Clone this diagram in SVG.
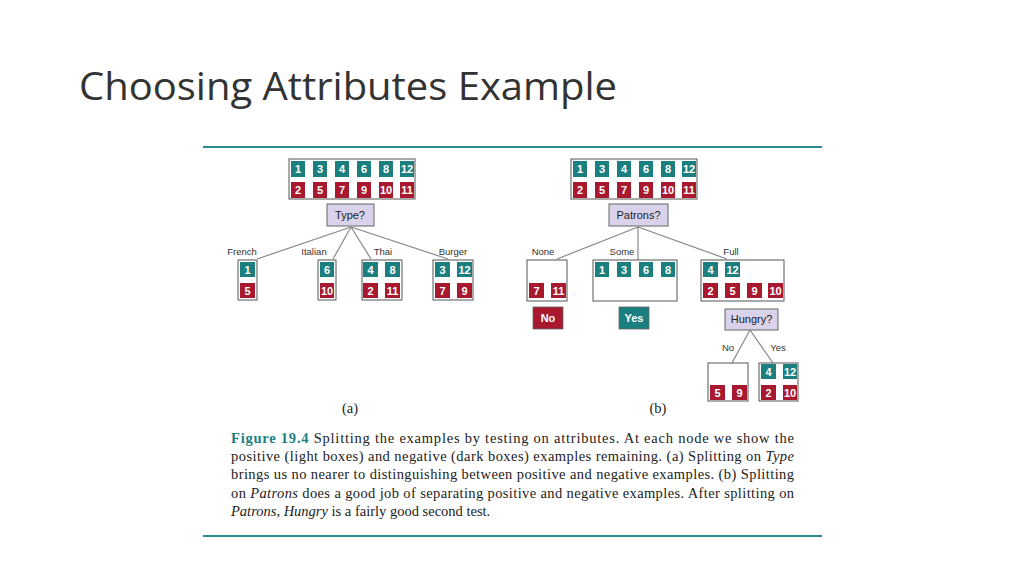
<svg xmlns="http://www.w3.org/2000/svg" width="1024" height="576" viewBox="0 0 1024 576">
<style>
.t{fill:#1b7f80}.r{fill:#a8182f}
.n{font-family:"Liberation Sans",Arial,sans-serif;font-size:11px;fill:#fff;text-anchor:middle;font-weight:bold}
.bx{fill:#fff;stroke:#555;stroke-width:1}
.q{fill:#d9d2ea;stroke:#666;stroke-width:1}
.ql{font-family:"Liberation Sans",Arial,sans-serif;font-size:11px;fill:#222;text-anchor:middle}
.lb{font-family:"Liberation Sans",Arial,sans-serif;font-size:9.5px;fill:#333;text-anchor:middle}
.cap{font-family:"Liberation Serif","Times New Roman",serif;font-size:14.5px;fill:#222}
.ln{stroke:#888;stroke-width:1.2;fill:none}
</style>
<rect width="1024" height="576" fill="#fff"/>
<text x="79" y="100" font-family="'Open Sans','Liberation Sans',sans-serif" font-size="38" fill="#333" textLength="538" lengthAdjust="spacingAndGlyphs">Choosing Attributes Example</text>
<line x1="203" y1="147" x2="822" y2="147" stroke="#2a8a8c" stroke-width="2"/>
<line x1="203" y1="536" x2="822" y2="536" stroke="#2a8a8c" stroke-width="2"/>
<g id="connectors">
<path class="ln" d="M351 227L257 259M351 227L333 259M351 227L371 259M351 227L448 259"/>
<path class="ln" d="M638 227L557 259M638 227L638 260M638 227L727 259"/>
<path class="ln" d="M750 330L732 363M750 330L773 363"/>
</g>
<g id="a-root">
<rect class="bx" x="289" y="159" width="126" height="40"/>
<g class="n">
<rect class="t" x="291" y="161" width="14" height="16"/><rect class="t" x="313" y="161" width="14" height="16"/><rect class="t" x="335" y="161" width="14" height="16"/><rect class="t" x="357" y="161" width="14" height="16"/><rect class="t" x="379" y="161" width="14" height="16"/><rect class="t" x="400" y="161" width="14" height="16"/>
<rect class="r" x="291" y="182" width="14" height="16"/><rect class="r" x="313" y="182" width="14" height="16"/><rect class="r" x="335" y="182" width="14" height="16"/><rect class="r" x="357" y="182" width="14" height="16"/><rect class="r" x="379" y="182" width="14" height="16"/><rect class="r" x="400" y="182" width="14" height="16"/>
<text x="298" y="173">1</text><text x="320" y="173">3</text><text x="342" y="173">4</text><text x="364" y="173">6</text><text x="386" y="173">8</text><text x="407" y="173">12</text>
<text x="298" y="194">2</text><text x="320" y="194">5</text><text x="342" y="194">7</text><text x="364" y="194">9</text><text x="386" y="194">10</text><text x="407" y="194">11</text>
</g>
</g>
<g id="a-type"><rect class="q" x="327" y="204" width="47" height="22"/><text class="ql" x="350" y="219">Type?</text></g>
<g id="a-labels"><text class="lb" x="242" y="255">French</text><text class="lb" x="314" y="255">Italian</text><text class="lb" x="383" y="255">Thai</text><text class="lb" x="453" y="255">Burger</text></g>
<g id="a-french" class="n"><rect class="bx" x="238" y="260" width="19" height="40"/><rect class="t" x="240" y="262" width="15" height="15"/><rect class="r" x="240" y="283" width="15" height="15"/><text x="247.5" y="274">1</text><text x="247.5" y="295">5</text></g>
<g id="a-italian" class="n"><rect class="bx" x="318" y="260" width="18" height="40"/><rect class="t" x="320" y="262" width="14" height="15"/><rect class="r" x="320" y="283" width="14" height="15"/><text x="327" y="274">6</text><text x="327" y="295">10</text></g>
<g id="a-thai" class="n"><rect class="bx" x="362" y="260" width="40" height="40"/><rect class="t" x="363" y="262" width="15" height="15"/><rect class="t" x="385" y="262" width="15" height="15"/><rect class="r" x="363" y="283" width="15" height="15"/><rect class="r" x="385" y="283" width="15" height="15"/><text x="370.5" y="274">4</text><text x="392.5" y="274">8</text><text x="370.5" y="295">2</text><text x="392.5" y="295">11</text></g>
<g id="a-burger" class="n"><rect class="bx" x="433" y="260" width="40" height="40"/><rect class="t" x="435" y="262" width="15" height="15"/><rect class="t" x="457" y="262" width="15" height="15"/><rect class="r" x="435" y="283" width="15" height="15"/><rect class="r" x="457" y="283" width="15" height="15"/><text x="442.5" y="274">3</text><text x="464.5" y="274">12</text><text x="442.5" y="295">7</text><text x="464.5" y="295">9</text></g>

<g id="b-root">
<rect class="bx" x="571" y="159" width="126" height="40"/>
<g class="n">
<rect class="t" x="573" y="161" width="14" height="16"/><rect class="t" x="595" y="161" width="14" height="16"/><rect class="t" x="617" y="161" width="14" height="16"/><rect class="t" x="639" y="161" width="14" height="16"/><rect class="t" x="661" y="161" width="14" height="16"/><rect class="t" x="682" y="161" width="14" height="16"/>
<rect class="r" x="573" y="182" width="14" height="16"/><rect class="r" x="595" y="182" width="14" height="16"/><rect class="r" x="617" y="182" width="14" height="16"/><rect class="r" x="639" y="182" width="14" height="16"/><rect class="r" x="661" y="182" width="14" height="16"/><rect class="r" x="682" y="182" width="14" height="16"/>
<text x="580" y="173">1</text><text x="602" y="173">3</text><text x="624" y="173">4</text><text x="646" y="173">6</text><text x="668" y="173">8</text><text x="689" y="173">12</text>
<text x="580" y="194">2</text><text x="602" y="194">5</text><text x="624" y="194">7</text><text x="646" y="194">9</text><text x="668" y="194">10</text><text x="689" y="194">11</text>
</g>
</g>
<g id="b-patrons"><rect class="q" x="609" y="204" width="59" height="22"/><text class="ql" x="638.5" y="219">Patrons?</text></g>
<g id="b-labels"><text class="lb" x="543" y="255">None</text><text class="lb" x="622" y="255">Some</text><text class="lb" x="731" y="255">Full</text><text class="lb" x="728" y="351">No</text><text class="lb" x="778" y="351">Yes</text></g>
<g id="b-none" class="n"><rect class="bx" x="527" y="260" width="40" height="41"/><rect class="r" x="529" y="283" width="15" height="15"/><rect class="r" x="551" y="283" width="15" height="15"/><text x="536.5" y="295">7</text><text x="558.5" y="295">11</text></g>
<g id="b-some" class="n"><rect class="bx" x="593" y="260" width="84" height="41"/><rect class="t" x="595" y="262" width="14" height="15"/><rect class="t" x="617" y="262" width="14" height="15"/><rect class="t" x="639" y="262" width="14" height="15"/><rect class="t" x="661" y="262" width="14" height="15"/><text x="602" y="274">1</text><text x="624" y="274">3</text><text x="646" y="274">6</text><text x="668" y="274">8</text></g>
<g id="b-full" class="n"><rect class="bx" x="701" y="260" width="83" height="41"/><rect class="t" x="703" y="262" width="15" height="15"/><rect class="t" x="725" y="262" width="15" height="15"/><rect class="r" x="703" y="283" width="15" height="15"/><rect class="r" x="725" y="283" width="15" height="15"/><rect class="r" x="747" y="283" width="15" height="15"/><rect class="r" x="768" y="283" width="15" height="15"/><text x="710.5" y="274">4</text><text x="732.5" y="274">12</text><text x="710.5" y="295">2</text><text x="732.5" y="295">5</text><text x="754.5" y="295">9</text><text x="775.5" y="295">10</text></g>
<g id="b-no"><rect class="r" x="533" y="307" width="30" height="22" stroke="#666" stroke-width="0.8"/><text class="n" x="548" y="322" font-size="12">No</text></g>
<g id="b-yes"><rect class="t" x="619" y="307" width="30" height="22" stroke="#666" stroke-width="0.8"/><text class="n" x="634" y="322" font-size="12">Yes</text></g>
<g id="b-hungry"><rect class="q" x="725" y="309" width="53" height="21"/><text class="ql" x="751.5" y="323">Hungry?</text></g>
<g id="b-hno" class="n"><rect class="bx" x="708" y="363" width="40" height="38"/><rect class="r" x="710" y="385" width="15" height="15"/><rect class="r" x="732" y="385" width="15" height="15"/><text x="717.5" y="397">5</text><text x="739.5" y="397">9</text></g>
<g id="b-hyes" class="n"><rect class="bx" x="759" y="363" width="39" height="38"/><rect class="t" x="761" y="364" width="15" height="15"/><rect class="t" x="783" y="364" width="14" height="15"/><rect class="r" x="761" y="385" width="15" height="15"/><rect class="r" x="783" y="385" width="14" height="15"/><text x="768.5" y="376">4</text><text x="790" y="376">12</text><text x="768.5" y="397">2</text><text x="790" y="397">10</text></g>
<text class="cap" x="350" y="413" text-anchor="middle">(a)</text>
<text class="cap" x="658" y="413" text-anchor="middle">(b)</text>
<g class="cap">
<text x="231" y="443" textLength="563" lengthAdjust="spacing"><tspan font-weight="bold" fill="#1b7f80">Figure 19.4</tspan> Splitting the examples by testing on attributes.  At each node we show the</text>
<text x="231" y="461" textLength="563" lengthAdjust="spacing">positive (light boxes) and negative (dark boxes) examples remaining. (a) Splitting on <tspan font-style="italic">Type</tspan></text>
<text x="231" y="479" textLength="563" lengthAdjust="spacing">brings us no nearer to distinguishing between positive and negative examples. (b) Splitting</text>
<text x="231" y="498" textLength="563" lengthAdjust="spacing">on <tspan font-style="italic">Patrons</tspan> does a good job of separating positive and negative examples. After splitting on</text>
<text x="231" y="516"><tspan font-style="italic">Patrons</tspan>, <tspan font-style="italic">Hungry</tspan> is a fairly good second test.</text>
</g>
</svg>
